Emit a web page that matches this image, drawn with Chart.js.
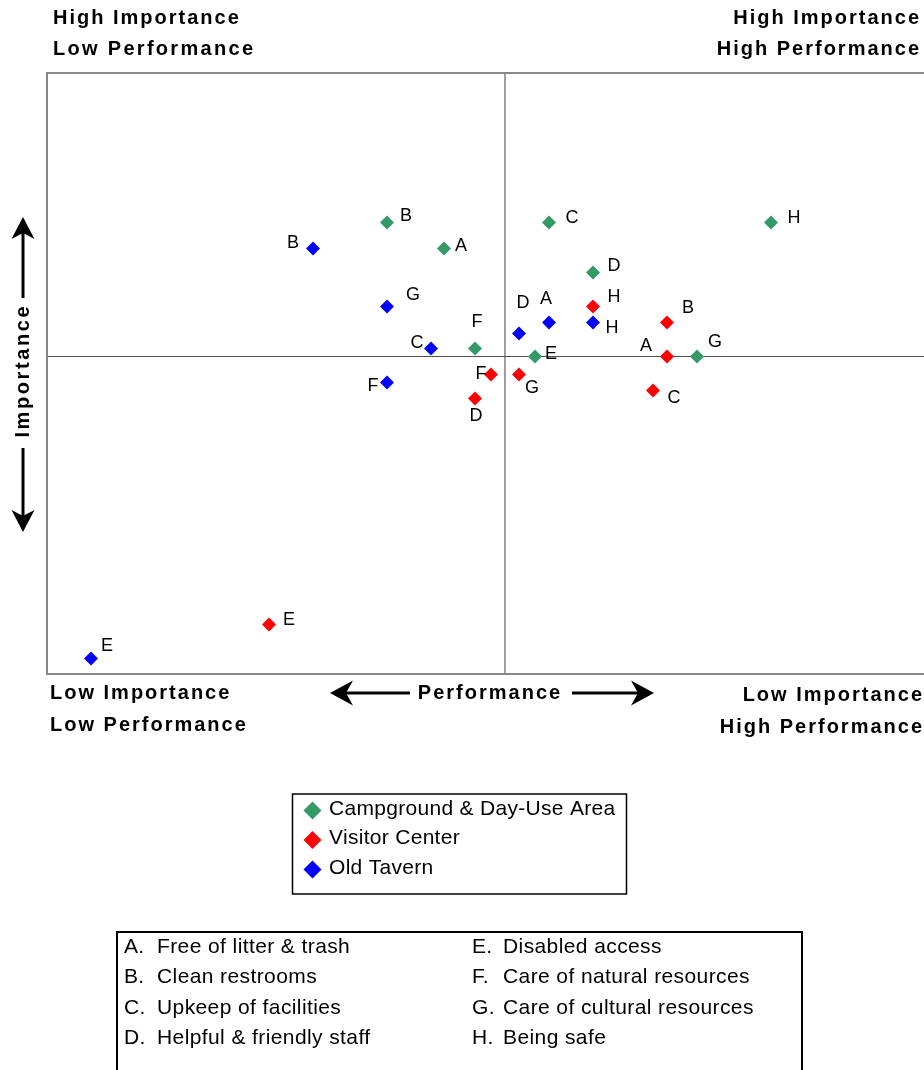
<!DOCTYPE html>
<html>
<head>
<meta charset="utf-8">
<script src="https://cdn.jsdelivr.net/npm/chart.js@4.4.1/dist/chart.umd.min.js"></script>
<style>
  html, body { margin: 0; padding: 0; background: #ffffff; overflow: hidden; }
  #wrap { position: relative; width: 924px; height: 1070px; }
  canvas { display: block; }
</style>
</head>
<body>
<div id="wrap"><canvas id="c"></canvas></div>
<script>
// ---------- DATA ----------
const categories = ['A', 'B', 'C', 'D', 'E', 'F', 'G', 'H'];
const categoryNames = [
  'Free of litter & trash', 'Clean restrooms', 'Upkeep of facilities', 'Helpful & friendly staff',
  'Disabled access', 'Care of natural resources', 'Care of cultural resources', 'Being safe'
];
const seriesNames = ['Campground & Day-Use Area', 'Visitor Center', 'Old Tavern'];

// performance (x) and importance (y), relative to the quadrant cross
const campgroundPerf = [-0.61, -1.18, 0.44, 0.88, 0.30, -0.30, 1.92, 2.66];
const campgroundImp  = [ 1.08,  1.34, 1.34, 0.84, 0.00,  0.08, 0.00, 1.34];
const visitorPerf    = [ 1.62,  1.62, 1.48, -0.30, -2.36, -0.14, 0.14, 0.88];
const visitorImp     = [ 0.00,  0.34, -0.34, -0.42, -2.68, -0.18, -0.18, 0.50];
const tavernPerf     = [ 0.44, -1.92, -0.74, 0.14, -4.14, -1.18, -1.18, 0.88];
const tavernImp      = [ 0.34,  1.08,  0.08, 0.23, -3.02, -0.26,  0.50, 0.34];

// axis extents
const perfRange = [-4.58, 4.19];
const impRange  = [-3.175, 2.835];

// ---------- STYLE ----------
const seriesColors = ['#339966', '#ff0000', '#0000ff'];
// label offsets (px) of each letter relative to its marker
const labelOffsets = [
  [[17,-2],[19,-6],[23,-4],[21,-6],[16,-2],[2,-26],[18,-14],[23,-4]],
  [[-21,-10],[21,-14],[21,8],[1,18],[20,-4],[-10,0],[13,14],[21,-9]],
  [[-3,-23],[-20,-5],[-14,-5],[4,-30],[16,-12],[-14,4],[26,-11],[19,6]]
];
const FONT = '"Liberation Sans", Arial, Helvetica, sans-serif';

function pts(xs, ys) { return xs.map((x, i) => ({ x: x, y: ys[i] })); }

const datasets = [
  { label: seriesNames[0], data: pts(campgroundPerf, campgroundImp) },
  { label: seriesNames[1], data: pts(visitorPerf, visitorImp) },
  { label: seriesNames[2], data: pts(tavernPerf, tavernImp) }
].map((d, i) => Object.assign(d, {
  backgroundColor: seriesColors[i],
  borderColor: seriesColors[i],
  borderWidth: 0,
  pointStyle: 'rectRot',
  pointRadius: 7,
  pointHoverRadius: 7
}));

function txt(ctx, s, x, y, font, align, ls, color) {
  ctx.save();
  ctx.font = font;
  ctx.fillStyle = color || '#000';
  ctx.textBaseline = 'middle';
  ctx.letterSpacing = (ls || 0) + 'px';
  let w = ctx.measureText(s).width;
  let sx = x;
  if (align === 'right') sx = x - w + (ls || 0);
  else if (align === 'center') sx = x - (w - (ls || 0)) / 2;
  ctx.textAlign = 'left';
  ctx.fillText(s, sx, y);
  ctx.restore();
}

// horizontal arrow: tip at (tx,y), tail at (sx,y)
function arrowH(ctx, sx, tx, y) {
  const dir = tx > sx ? 1 : -1;
  const L = 23, notch = 7, hw = 12.5;
  ctx.save();
  ctx.strokeStyle = '#000'; ctx.fillStyle = '#000'; ctx.lineWidth = 3;
  ctx.beginPath(); ctx.moveTo(sx, y); ctx.lineTo(tx - dir * (L - notch), y); ctx.stroke();
  ctx.beginPath();
  ctx.moveTo(tx, y);
  ctx.lineTo(tx - dir * L, y - hw);
  ctx.lineTo(tx - dir * (L - notch), y);
  ctx.lineTo(tx - dir * L, y + hw);
  ctx.closePath(); ctx.fill();
  ctx.restore();
}
function arrowV(ctx, x, sy, ty) {
  const dir = ty > sy ? 1 : -1;
  const L = 22, notch = 6, hw = 11.5;
  ctx.save();
  ctx.strokeStyle = '#000'; ctx.fillStyle = '#000'; ctx.lineWidth = 3;
  ctx.beginPath(); ctx.moveTo(x, sy); ctx.lineTo(x, ty - dir * (L - notch)); ctx.stroke();
  ctx.beginPath();
  ctx.moveTo(x, ty);
  ctx.lineTo(x - hw, ty - dir * L);
  ctx.lineTo(x, ty - dir * (L - notch));
  ctx.lineTo(x + hw, ty - dir * L);
  ctx.closePath(); ctx.fill();
  ctx.restore();
}
function diamond(ctx, x, y, r, color) {
  ctx.save(); ctx.fillStyle = color;
  ctx.beginPath(); ctx.moveTo(x, y - r); ctx.lineTo(x + r, y); ctx.lineTo(x, y + r); ctx.lineTo(x - r, y);
  ctx.closePath(); ctx.fill(); ctx.restore();
}

const decor = {
  id: 'decor',
  beforeDatasetsDraw(chart) {
    const { ctx, chartArea: a, scales } = chart;
    const x0 = scales.x.getPixelForValue(0);
    const y0 = scales.y.getPixelForValue(0);
    ctx.save();
    ctx.strokeStyle = '#7f7f7f'; ctx.lineWidth = 1.5;
    ctx.beginPath(); ctx.moveTo(x0, a.top); ctx.lineTo(x0, a.bottom); ctx.stroke();
    ctx.strokeStyle = '#505050'; ctx.lineWidth = 1.2;
    ctx.beginPath(); ctx.moveTo(a.left, y0); ctx.lineTo(a.right, y0); ctx.stroke();
    ctx.strokeStyle = '#888888'; ctx.lineWidth = 2;
    ctx.strokeRect(a.left, a.top, a.right - a.left + 4, a.bottom - a.top);
    ctx.restore();
  },
  afterDatasetsDraw(chart) {
    const ctx = chart.ctx;
    chart.data.datasets.forEach((ds, i) => {
      const meta = chart.getDatasetMeta(i);
      meta.data.forEach((el, j) => {
        const off = labelOffsets[i][j];
        txt(ctx, categories[j], el.x + off[0], el.y + off[1], '18px ' + FONT, 'center', 0, '#000');
      });
    });
  },
  afterDraw(chart) {
    const ctx = chart.ctx;
    const bold = 'bold 20px ' + FONT;
    const ls = 2;
    // corner captions
    txt(ctx, 'High Importance', 53, 18, bold, 'left', ls);
    txt(ctx, 'Low Performance', 53, 49, bold, 'left', 2.3);
    txt(ctx, 'High Importance', 919, 18, bold, 'right', ls);
    txt(ctx, 'High Performance', 919, 49, bold, 'right', ls);
    txt(ctx, 'Low Importance', 50, 693, bold, 'left', ls);
    txt(ctx, 'Low Performance', 50, 725, bold, 'left', ls);
    txt(ctx, 'Low Importance', 922, 695, bold, 'right', ls);
    txt(ctx, 'High Performance', 922, 727, bold, 'right', ls);
    // performance axis title
    txt(ctx, 'Performance', 489, 693, bold, 'center', ls);
    arrowH(ctx, 410, 330, 693);
    arrowH(ctx, 572, 654, 693);
    // importance axis title
    ctx.save();
    ctx.translate(23, 372);
    ctx.rotate(-Math.PI / 2);
    txt(ctx, 'Importance', 0, 0, bold, 'center', 2.6);
    ctx.restore();
    arrowV(ctx, 23, 298, 217);
    arrowV(ctx, 23, 448, 532);

    // legend
    ctx.save();
    ctx.strokeStyle = '#000'; ctx.lineWidth = 1.5;
    ctx.strokeRect(292.5, 794, 334, 100);
    ctx.restore();
    const reg = '21px ' + FONT;
    chart.data.datasets.forEach((ds, i) => {
      const y = 809 + i * 29.5;
      diamond(ctx, 312.5, y + 1.5, 9, ds.backgroundColor);
      txt(ctx, ds.label, 329, y, reg, 'left', 0.3);
    });

    // key box
    ctx.save();
    ctx.strokeStyle = '#000'; ctx.lineWidth = 2;
    ctx.strokeRect(117, 932, 685, 160);
    ctx.restore();
    categories.forEach((c, i) => {
      const col = i < 4 ? 0 : 1;
      const row = i % 4;
      const y = 947 + row * 30.5;
      const lx = col === 0 ? 124 : 472;
      const dx = col === 0 ? 157 : 503;
      txt(ctx, c + '.', lx, y, reg, 'left', 0.3);
      txt(ctx, categoryNames[i], dx, y, reg, 'left', 0.4);
    });
  }
};

new Chart(document.getElementById('c'), {
  type: 'scatter',
  data: { datasets: datasets },
  options: {
    responsive: true,
    maintainAspectRatio: false,
    animation: false,
    events: [],
    layout: { autoPadding: false, padding: { left: 47, top: 73, right: 0, bottom: 396 } },
    scales: {
      x: { type: 'linear', min: perfRange[0], max: perfRange[1], display: false },
      y: { type: 'linear', min: impRange[0], max: impRange[1], display: false }
    },
    plugins: { legend: { display: false }, tooltip: { enabled: false } }
  },
  plugins: [decor]
});
</script>
</body>
</html>
